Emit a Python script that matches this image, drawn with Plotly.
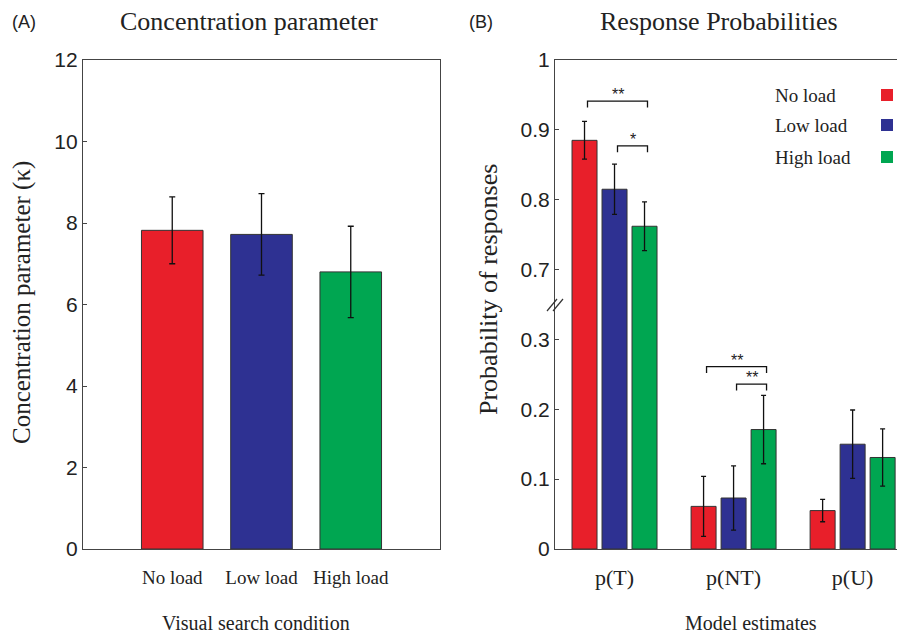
import plotly.graph_objects as go

# The page places the figure 8px from the window's top-left corner, so the figure is
# sized to the visible area and all pixel positions below are window pixels.
WIN_W, WIN_H = 905, 636
OFF = 8
W, H = WIN_W - OFF, WIN_H - OFF

# ---------------- Data ----------------
# Panel A: concentration parameter
conditions = ["No load", "Low load", "High load"]
kappa_mean = [7.82, 7.72, 6.80]
kappa_err = [0.82, 1.00, 1.12]

# Panel B: response probabilities
estimates = ["p(T)", "p(NT)", "p(U)"]
prob_no = [0.885, 0.061, 0.055]
prob_no_err = [0.027, 0.043, 0.016]
prob_low = [0.815, 0.073, 0.150]
prob_low_err = [0.036, 0.046, 0.049]
prob_high = [0.762, 0.171, 0.131]
prob_high_err = [0.035, 0.049, 0.041]

ytick_A = [0, 2, 4, 6, 8, 10, 12]
ytick_B = [0, 0.1, 0.2, 0.3, 0.7, 0.8, 0.9, 1]
ytick_B_text = ["0", "0.1", "0.2", "0.3", "0.7", "0.8", "0.9", "1"]

# significance brackets: (group, left bar, right bar, level, label)
brackets = [
    (0, 0, 2, 0.941, "**"),
    (0, 1, 2, 0.877, "*"),
    (1, 0, 2, 0.261, "**"),
    (1, 1, 2, 0.236, "**"),
]

colors = ["#E81F2A", "#2E3192", "#00A651"]
edge = "#333333"

# broken-axis transform (0.3 .. 0.7 collapsed into one tick step)
BRK_LO, BRK_HI = 0.3, 0.7


def squeeze(v):
    if v <= BRK_LO:
        return v
    if v >= BRK_HI:
        return v - (BRK_HI - BRK_LO) + 0.1
    return BRK_LO + (v - BRK_LO) * 0.25


# ---------------- Geometry helpers (window pixels -> paper) ----------------
def px(x):
    return (x - OFF) / W


def py(y):
    return 1 - (y - OFF) / H


A_X0, A_X1 = 83, 440
B_X0, B_X1 = 555, 905
Y_TOP, Y_BOT = 60, 549

serif = "Liberation Serif"
sans = "Liberation Sans"
ink = "#222222"

fig = go.Figure()

# Panel A bars
fig.add_trace(go.Bar(
    x=[0, 1, 2], y=kappa_mean, width=0.69,
    marker=dict(color=colors, line=dict(color=edge, width=1)),
    error_y=dict(type="data", array=kappa_err, color="#111111", thickness=1.3, width=3),
    xaxis="x", yaxis="y", showlegend=False,
))

# Panel B bars
series = [(prob_no, prob_no_err), (prob_low, prob_low_err), (prob_high, prob_high_err)]
for i, ((vals, errs), name) in enumerate(zip(series, conditions)):
    fig.add_trace(go.Bar(
        x=[0, 1, 2], y=[squeeze(v) for v in vals], name=name,
        marker=dict(color=colors[i], line=dict(color=edge, width=1)),
        error_y=dict(type="data", array=errs, color="#111111", thickness=1.3, width=2.5),
        xaxis="x2", yaxis="y2", showlegend=False, offsetgroup=str(i),
    ))

BARGAP = 0.244
BARGROUPGAP = 0.167
slot = (1 - BARGAP) / 3

line_common = dict(showgrid=False, zeroline=False, showline=True, linecolor="#444444",
                   linewidth=1.2, automargin=False)

fig.update_layout(
    width=W, height=H,
    margin=dict(l=0, r=0, t=0, b=0, autoexpand=False),
    paper_bgcolor="white", plot_bgcolor="white",
    barmode="group", bargap=BARGAP, bargroupgap=BARGROUPGAP,
    xaxis=dict(domain=[px(A_X0), px(A_X1)], range=[-1, 3], tickvals=[0, 1, 2],
               ticktext=conditions, ticks="", tickfont=dict(family=serif, size=19, color=ink),
               ticklabelstandoff=11, anchor="y", mirror=True, **line_common),
    yaxis=dict(domain=[py(Y_BOT), py(Y_TOP)], range=[0, 12], tickvals=ytick_A,
               ticks="inside", ticklen=4, tickcolor="#444444",
               tickfont=dict(family=sans, size=21, color=ink), anchor="x", mirror=True,
               **line_common),
    xaxis2=dict(domain=[px(B_X0), min(1.0, px(B_X1))], range=[-0.5, 2.44], tickvals=[0, 1, 2],
                ticktext=estimates, ticks="", tickfont=dict(family=serif, size=22, color=ink),
                ticklabelstandoff=8, anchor="y2", mirror=True, **line_common),
    yaxis2=dict(domain=[py(Y_BOT), py(Y_TOP)], range=[0, squeeze(1.0)],
                tickvals=[squeeze(v) for v in ytick_B], ticktext=ytick_B_text,
                ticks="inside", ticklen=4, tickcolor="#444444",
                tickfont=dict(family=sans, size=21, color=ink), anchor="x2",
                mirror=False, **line_common),
)

annotations = []
shapes = []

# titles and panel labels
annotations += [
    dict(text="(A)", x=px(10), y=py(22), xref="paper", yref="paper", xanchor="left",
         yanchor="middle", showarrow=False, font=dict(family=sans, size=18, color=ink)),
    dict(text="(B)", x=px(467), y=py(22), xref="paper", yref="paper", xanchor="left",
         yanchor="middle", showarrow=False, font=dict(family=sans, size=18, color=ink)),
    dict(text="Concentration parameter", x=px(249), y=py(21), xref="paper", yref="paper",
         xanchor="center", yanchor="middle", showarrow=False,
         font=dict(family=serif, size=26, color=ink)),
    dict(text="Response Probabilities", x=px(719), y=py(21), xref="paper", yref="paper",
         xanchor="center", yanchor="middle", showarrow=False,
         font=dict(family=serif, size=26, color=ink)),
    dict(text="Visual search condition", x=px(256), y=py(623), xref="paper", yref="paper",
         xanchor="center", yanchor="middle", showarrow=False,
         font=dict(family=serif, size=20, color=ink)),
    dict(text="Model estimates", x=px(751), y=py(623), xref="paper", yref="paper",
         xanchor="center", yanchor="middle", showarrow=False,
         font=dict(family=serif, size=20, color=ink)),
    dict(text="Concentration parameter (\u03ba)", x=px(22), y=py(303), xref="paper",
         yref="paper", xanchor="center", yanchor="middle", textangle=-90, showarrow=False,
         font=dict(family=serif, size=25, color=ink)),
    dict(text="Probability of responses", x=px(488), y=py(290), xref="paper",
         yref="paper", xanchor="center", yanchor="middle", textangle=-90, showarrow=False,
         font=dict(family=serif, size=26, color=ink)),
]

# legend (text left, swatch right)
legend_y = [95, 125, 157]
for name, col, ly in zip(conditions, colors, legend_y):
    annotations.append(dict(text=name, x=px(773), y=py(ly), xref="paper", yref="paper",
                            xanchor="left", yanchor="middle", showarrow=False,
                            font=dict(family=serif, size=19, color=ink)))
    shapes.append(dict(type="rect", xref="paper", yref="paper",
                       x0=px(881), x1=px(893), y0=py(ly + 6), y1=py(ly - 6),
                       fillcolor=col, line=dict(width=0)))

# significance brackets
tick_h = 0.009
shift = 0.025
for g, i, j, lvl, lab in brackets:
    xl = g + (i - 1) * slot + shift
    xr = g + (j - 1) * slot + shift
    yl = squeeze(lvl)
    shapes.append(dict(type="path", xref="x2", yref="y2",
                       path=f"M {xl},{yl - tick_h} L {xl},{yl} L {xr},{yl} L {xr},{yl - tick_h}",
                       line=dict(color="#111111", width=1.3)))
    annotations.append(dict(text=lab, x=(xl + xr) / 2, y=yl, xref="x2", yref="y2",
                            xanchor="center", yanchor="bottom", yshift=-4, showarrow=False,
                            font=dict(family=sans, size=16, color=ink)))

# axis break marks
for dx in (-3, 3):
    shapes.append(dict(type="line", xref="paper", yref="paper",
                       x0=px(B_X0 + dx - 5), y0=py(311), x1=px(B_X0 + dx + 5), y1=py(299),
                       line=dict(color="#333333", width=1.2)))

fig.update_layout(annotations=annotations, shapes=shapes)

fig.write_html("out.html")
